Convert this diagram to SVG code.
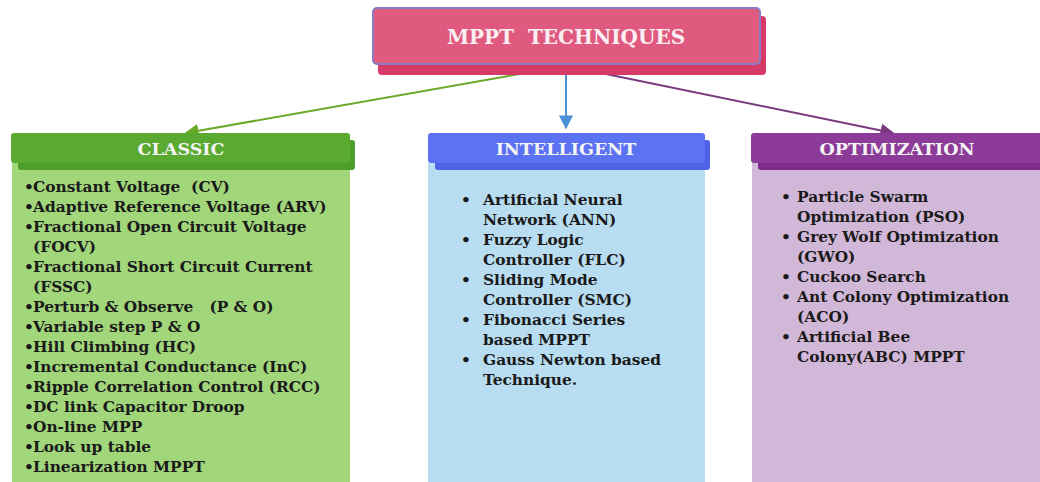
<svg xmlns="http://www.w3.org/2000/svg" width="1040" height="482" viewBox="0 0 1040 482">
<defs>
<style>
text{white-space:pre}
.t{font-family:"DejaVu Serif","Liberation Serif",serif;font-weight:bold;font-size:15.4px;fill:#1a1a1a}
.h{font-family:"DejaVu Serif","Liberation Serif",serif;font-weight:bold;font-size:17.5px;fill:#f4f4f4;text-anchor:middle}
</style>
<marker id="ag" viewBox="0 0 10 10" refX="9" refY="5" markerWidth="7" markerHeight="7" orient="auto"><path d="M0,0 L10,5 L0,10 z" fill="#6aa82a"/></marker>
<marker id="ab" viewBox="0 0 10 10" refX="9" refY="5" markerWidth="7" markerHeight="7" orient="auto"><path d="M0,0 L10,5 L0,10 z" fill="#4a90d8"/></marker>
<marker id="ap" viewBox="0 0 10 10" refX="9" refY="5" markerWidth="7" markerHeight="7" orient="auto"><path d="M0,0 L10,5 L0,10 z" fill="#7a3a80"/></marker>
</defs>
<rect width="1040" height="482" fill="#ffffff"/>
<g id="connectors" fill="none" stroke-width="2">
<line x1="565" y1="66" x2="186" y2="133" stroke="#6aa82a" marker-end="url(#ag)"/>
<line x1="566" y1="66" x2="566" y2="128" stroke="#4a90d8" marker-end="url(#ab)"/>
<line x1="567" y1="66" x2="893" y2="133" stroke="#7a3a80" marker-end="url(#ap)"/>
</g>
<g id="root">
<rect x="378" y="16" width="388" height="59" rx="4" fill="#d83a68"/>
<rect x="373" y="8" width="387" height="56" rx="4" fill="#e05a80" stroke="#8a7ac8" stroke-width="2"/>
<text x="566" y="44" font-family="DejaVu Serif, Liberation Serif, serif" font-weight="bold" font-size="20" fill="#fbeef2" text-anchor="middle">MPPT  TECHNIQUES</text>
</g>
<g id="classic">
<rect x="12" y="162" width="338" height="330" fill="#a2d67a"/>
<rect x="18" y="140" width="337" height="30" rx="3" fill="#4e9e2c"/>
<rect x="11" y="133" width="339" height="30" rx="3" fill="#5aaa32"/>
<text class="h" x="181" y="155">CLASSIC</text>
<text class="t">
<tspan x="24" y="192">•</tspan><tspan x="33" y="192">Constant Voltage  (CV)</tspan>
<tspan x="24" y="212">•</tspan><tspan x="33" y="212">Adaptive Reference Voltage (ARV)</tspan>
<tspan x="24" y="232">•</tspan><tspan x="33" y="232">Fractional Open Circuit Voltage</tspan>
<tspan x="33" y="252">(FOCV)</tspan>
<tspan x="24" y="272">•</tspan><tspan x="33" y="272">Fractional Short Circuit Current</tspan>
<tspan x="33" y="292">(FSSC)</tspan>
<tspan x="24" y="312">•</tspan><tspan x="33" y="312">Perturb &amp; Observe   (P &amp; O)</tspan>
<tspan x="24" y="332">•</tspan><tspan x="33" y="332">Variable step P &amp; O</tspan>
<tspan x="24" y="352">•</tspan><tspan x="33" y="352">Hill Climbing (HC)</tspan>
<tspan x="24" y="372">•</tspan><tspan x="33" y="372">Incremental Conductance (InC)</tspan>
<tspan x="24" y="392">•</tspan><tspan x="33" y="392">Ripple Correlation Control (RCC)</tspan>
<tspan x="24" y="412">•</tspan><tspan x="33" y="412">DC link Capacitor Droop</tspan>
<tspan x="24" y="432">•</tspan><tspan x="33" y="432">On-line MPP</tspan>
<tspan x="24" y="452">•</tspan><tspan x="33" y="452">Look up table</tspan>
<tspan x="24" y="472">•</tspan><tspan x="33" y="472">Linearization MPPT</tspan>
</text>
</g>
<g id="intelligent">
<rect x="428" y="162" width="277" height="330" rx="3" fill="#b8dcf0"/>
<rect x="435" y="140" width="275" height="30" rx="3" fill="#4d62e6"/>
<rect x="428" y="133" width="277" height="30" rx="3" fill="#5b72f2"/>
<text class="h" x="566" y="155">INTELLIGENT</text>
<text class="t">
<tspan x="461" y="205">•</tspan><tspan x="483" y="205">Artificial Neural</tspan>
<tspan x="483" y="225">Network (ANN)</tspan>
<tspan x="461" y="245">•</tspan><tspan x="483" y="245">Fuzzy Logic</tspan>
<tspan x="483" y="265">Controller (FLC)</tspan>
<tspan x="461" y="285">•</tspan><tspan x="483" y="285">Sliding Mode</tspan>
<tspan x="483" y="305">Controller (SMC)</tspan>
<tspan x="461" y="325">•</tspan><tspan x="483" y="325">Fibonacci Series</tspan>
<tspan x="483" y="345">based MPPT</tspan>
<tspan x="461" y="365">•</tspan><tspan x="483" y="365">Gauss Newton based</tspan>
<tspan x="483" y="385">Technique.</tspan>
</text>
</g>
<g id="optimization">
<rect x="752" y="162" width="300" height="330" fill="#d2b8d8"/>
<rect x="758" y="140" width="300" height="30" rx="3" fill="#7e2e8a"/>
<rect x="751" y="133" width="300" height="30" rx="3" fill="#8c3c98"/>
<text class="h" x="897" y="155">OPTIMIZATION</text>
<text class="t">
<tspan x="781" y="202">•</tspan><tspan x="797" y="202">Particle Swarm</tspan>
<tspan x="797" y="222">Optimization (PSO)</tspan>
<tspan x="781" y="242">•</tspan><tspan x="797" y="242">Grey Wolf Optimization</tspan>
<tspan x="797" y="262">(GWO)</tspan>
<tspan x="781" y="282">•</tspan><tspan x="797" y="282">Cuckoo Search</tspan>
<tspan x="781" y="302">•</tspan><tspan x="797" y="302">Ant Colony Optimization</tspan>
<tspan x="797" y="322">(ACO)</tspan>
<tspan x="781" y="342">•</tspan><tspan x="797" y="342">Artificial Bee</tspan>
<tspan x="797" y="362">Colony(ABC) MPPT</tspan>
</text>
</g>
</svg>
